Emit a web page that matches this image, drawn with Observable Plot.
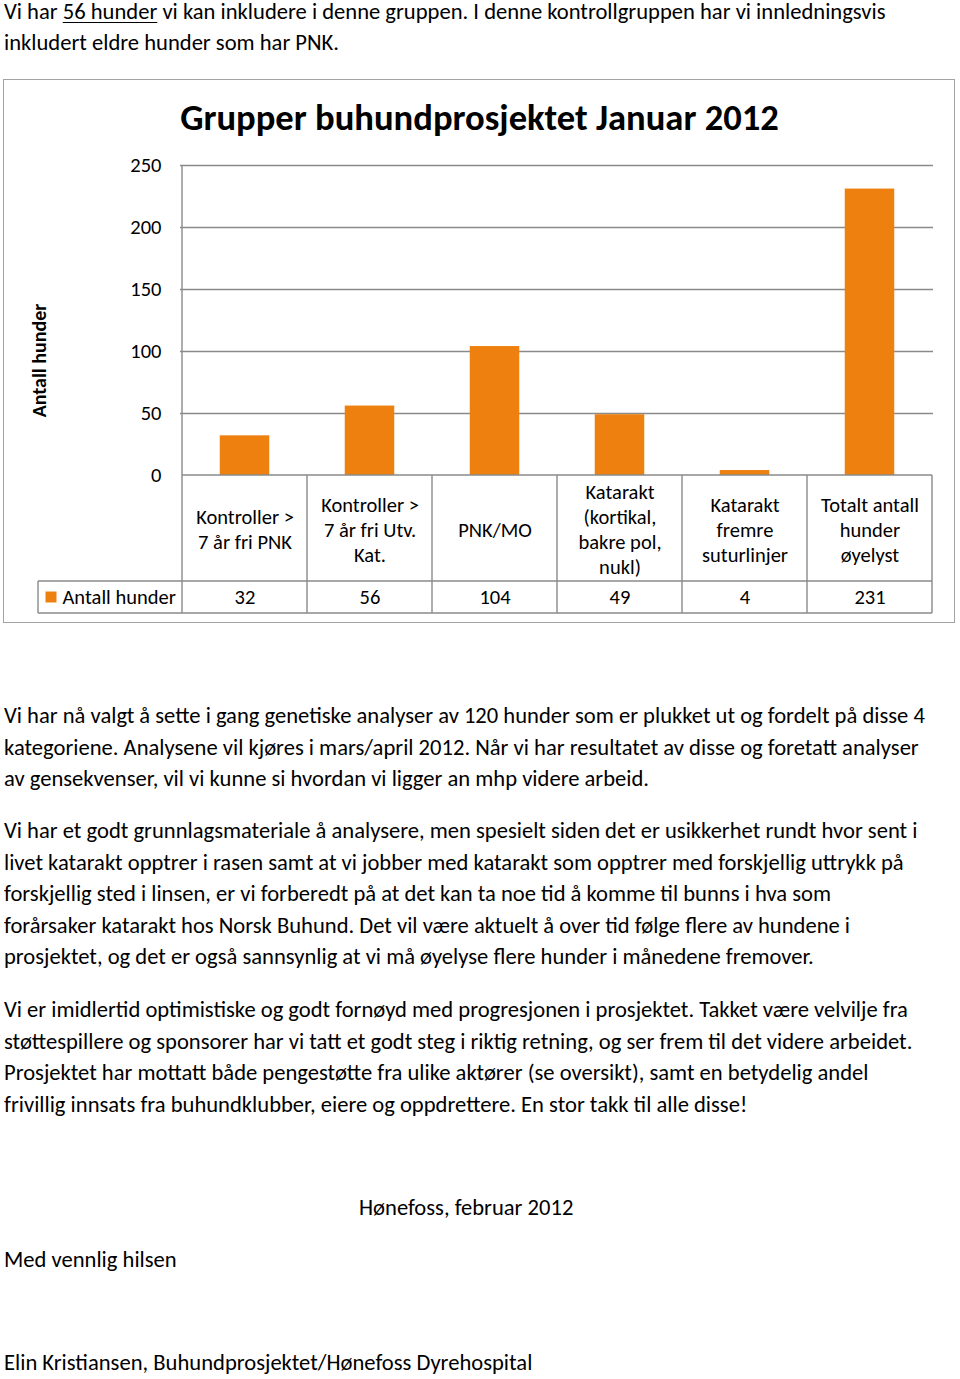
<!DOCTYPE html>
<html><head><meta charset="utf-8">
<script src="https://cdn.jsdelivr.net/npm/d3@7"></script>
<script src="https://cdn.jsdelivr.net/npm/@observablehq/plot@0.6"></script>
<style>
html,body{margin:0;padding:0;background:#fff;}
body{width:960px;height:1379px;position:relative;overflow:hidden;font-family:Carlito, Lato, "Open Sans", sans-serif;color:#000;}
.line{position:absolute;white-space:nowrap;}
#box{position:absolute;left:3px;top:79px;width:950px;height:542px;border:1.5px solid #a3a3a3;}
#title{position:absolute;left:4px;width:951px;text-align:center;font-weight:bold;white-space:nowrap;}
#chart{position:absolute;left:0;top:80px;}
u{text-decoration-thickness:1px;text-underline-offset:3px;}
</style></head><body>
<div id="box"></div>
<div id="chart"></div>
<div id="title">Grupper buhundprosjektet Januar 2012</div>
<script>
// ---- chart data ----
const categories = [
  "Kontroller >\n7 år fri PNK",
  "Kontroller >\n7 år fri Utv.\nKat.",
  "PNK/MO",
  "Katarakt\n(kortikal,\nbakre pol,\nnukl)",
  "Katarakt\nfremre\nsuturlinjer",
  "Totalt antall\nhunder\nøyelyst"
];
const antallHunder = [32, 56, 104, 49, 4, 231];
const seriesName = "Antall hunder";
const yTicks = [0, 50, 100, 150, 200, 250];
const chartTitle = "Grupper buhundprosjektet Januar 2012";
const yLabel = "Antall hunder";

// ---- document text ----
const introLines = [
  'Vi har <u>56 hunder</u> vi kan inkludere i denne gruppen. I denne kontrollgruppen har vi innledningsvis',
  'inkludert eldre hunder som har PNK.'
];
const para1 = [
  "Vi har nå valgt å sette i gang genetiske analyser av 120 hunder som er plukket ut og fordelt på disse 4",
  "kategoriene. Analysene vil kjøres i mars/april 2012. Når vi har resultatet av disse og foretatt analyser",
  "av gensekvenser, vil vi kunne si hvordan vi ligger an mhp videre arbeid."
];
const para2 = [
  "Vi har et godt grunnlagsmateriale å analysere, men spesielt siden det er usikkerhet rundt hvor sent i",
  "livet katarakt opptrer i rasen samt at vi jobber med katarakt som opptrer med forskjellig uttrykk på",
  "forskjellig sted i linsen, er vi forberedt på at det kan ta noe tid å komme til bunns i hva som",
  "forårsaker katarakt hos Norsk Buhund. Det vil være aktuelt å over tid følge flere av hundene i",
  "prosjektet, og det er også sannsynlig at vi må øyelyse flere hunder i månedene fremover."
];
const para3 = [
  "Vi er imidlertid optimistiske og godt fornøyd med progresjonen i prosjektet. Takket være velvilje fra",
  "støttespillere og sponsorer har vi tatt et godt steg i riktig retning, og ser frem til det videre arbeidet.",
  "Prosjektet har mottatt både pengestøtte fra ulike aktører (se oversikt), samt en betydelig andel",
  "frivillig innsats fra buhundklubber, eiere og oppdrettere. En stor takk til alle disse!"
];
const placeDate = "Hønefoss, februar 2012";
const greeting = "Med vennlig hilsen";
const signature = "Elin Kristiansen, Buhundprosjektet/Hønefoss Dyrehospital";

// ---- styling ----
const FONT = 'Carlito, Lato, "Open Sans", sans-serif';
const ORANGE = "#ee800f";
const GRAY = "#8a8a8a";
const CHART_FS = 20.5;

const ctx = document.createElement("canvas").getContext("2d");
function textWidth(t, font) { ctx.font = font; return ctx.measureText(t).width; }

// body text size fitted to the reference line width
const bodyFs = 20 * 921 / textWidth(para1[0], `20px ${FONT}`);
function baselineOffset(fs, weight) {
  const d = document.createElement("div");
  d.style.cssText = `position:absolute;top:0;left:0;font-size:${fs}px;line-height:${fs}px;font-weight:${weight||"normal"};white-space:nowrap;`;
  d.innerHTML = 'Xg<span style="display:inline-block;width:0;height:0;vertical-align:baseline"></span>';
  document.body.appendChild(d);
  const off = d.lastChild.getBoundingClientRect().top - d.getBoundingClientRect().top;
  d.remove();
  return off;
}
const bOff = baselineOffset(bodyFs);
function addLine(html, x, baseline) {
  const d = document.createElement("div");
  d.className = "line";
  d.style.left = x + "px";
  d.style.fontSize = bodyFs + "px";
  d.style.lineHeight = bodyFs + "px";
  d.style.top = (baseline - bOff) + "px";
  d.innerHTML = html;
  document.body.appendChild(d);
}
introLines.forEach((t, i) => addLine(t, 4, 19 + i * 31.3));
para1.forEach((t, i) => addLine(t, 4, 723 + i * 31.6));
para2.forEach((t, i) => addLine(t, 4, 838 + i * 31.6));
para3.forEach((t, i) => addLine(t, 4, 1017 + i * 31.6));
addLine(placeDate, 359, 1215);
addLine(greeting, 4, 1267);
addLine(signature, 4, 1370);

// title
const titleFs = 33 * 599 / textWidth(chartTitle, `bold 33px ${FONT}`);
const titleEl = document.getElementById("title");
titleEl.style.fontSize = titleFs + "px";
titleEl.style.lineHeight = titleFs + "px";
titleEl.style.top = (130 - baselineOffset(titleFs, "bold")) + "px";

// ---- chart ----
const rows = categories.map((c, i) => ({category: c, value: antallHunder[i]}));

function tableLines(index, scales, values, dims) {
  const x = scales.x, y = scales.y;
  const bw = typeof x.bandwidth === "function" ? x.bandwidth()
    : (dims.width - dims.marginLeft - dims.marginRight) / categories.length;
  const xs = categories.map(c => x(c));
  xs.push(xs[xs.length - 1] + bw);
  const yBase = y(0), yTop = y(yTicks[yTicks.length - 1]);
  const row1 = yBase + 106, row2 = row1 + 32;
  const legendLeft = dims.marginLeft - 142;
  const g = d3.create("svg:g").attr("stroke", GRAY).attr("stroke-width", 1.4).attr("fill", "none");
  const line = (x1, y1, x2, y2) => g.append("line").attr("x1", x1).attr("y1", y1).attr("x2", x2).attr("y2", y2);
  line(xs[0], yBase, xs[xs.length - 1], yBase);
  line(legendLeft, row1, xs[xs.length - 1], row1);
  line(legendLeft, row2, xs[xs.length - 1], row2);
  xs.forEach((xi, i) => line(xi, i === 0 ? yTop : yBase, xi, row2));
  line(legendLeft, row1, legendLeft, row2);
  return g.node();
}

const chart = Plot.plot({
  width: 960,
  height: 545,
  marginTop: 85,
  marginBottom: 150,
  marginLeft: 180,
  marginRight: 27,
  style: {fontFamily: FONT, fontSize: CHART_FS + "px", color: "#000", background: "transparent", overflow: "visible"},
  x: {type: "band", domain: categories, padding: 0, axis: null},
  y: {domain: [0, 250], ticks: yTicks, tickSize: 0, tickPadding: 19, label: null},
  marks: [
    Plot.ruleY(yTicks.slice(1), {stroke: GRAY, strokeWidth: 1.4}),
    Plot.barY(rows, {x: "category", y: "value", fill: ORANGE, insetLeft: 37.75, insetRight: 37.75}),
    tableLines,
    Plot.text(rows, {x: "category", text: "category", frameAnchor: "bottom", dy: 53, lineAnchor: "middle", lineHeight: 25 / CHART_FS, fontSize: CHART_FS, fill: "#000"}),
    Plot.text(rows, {x: "category", text: d => String(d.value), frameAnchor: "bottom", lineAnchor: "middle", dy: 122, fontSize: CHART_FS, fill: "#000"}),
    Plot.text([seriesName], {frameAnchor: "bottom-left", textAnchor: "start", lineAnchor: "middle", dx: -118, dy: 122, fontSize: CHART_FS, fill: "#000"}),
    Plot.dot([seriesName], {frameAnchor: "bottom-left", symbol: "square", r: 6.2, fill: ORANGE, stroke: null, dx: -129.5, dy: 121.5}),
    Plot.text([yLabel], {frameAnchor: "left", textAnchor: "middle", rotate: -90, dx: -141, dy: 40, fontSize: 20, fontWeight: "bold", fill: "#000"})
  ]
});
document.getElementById("chart").appendChild(chart);
</script>
</body></html>
